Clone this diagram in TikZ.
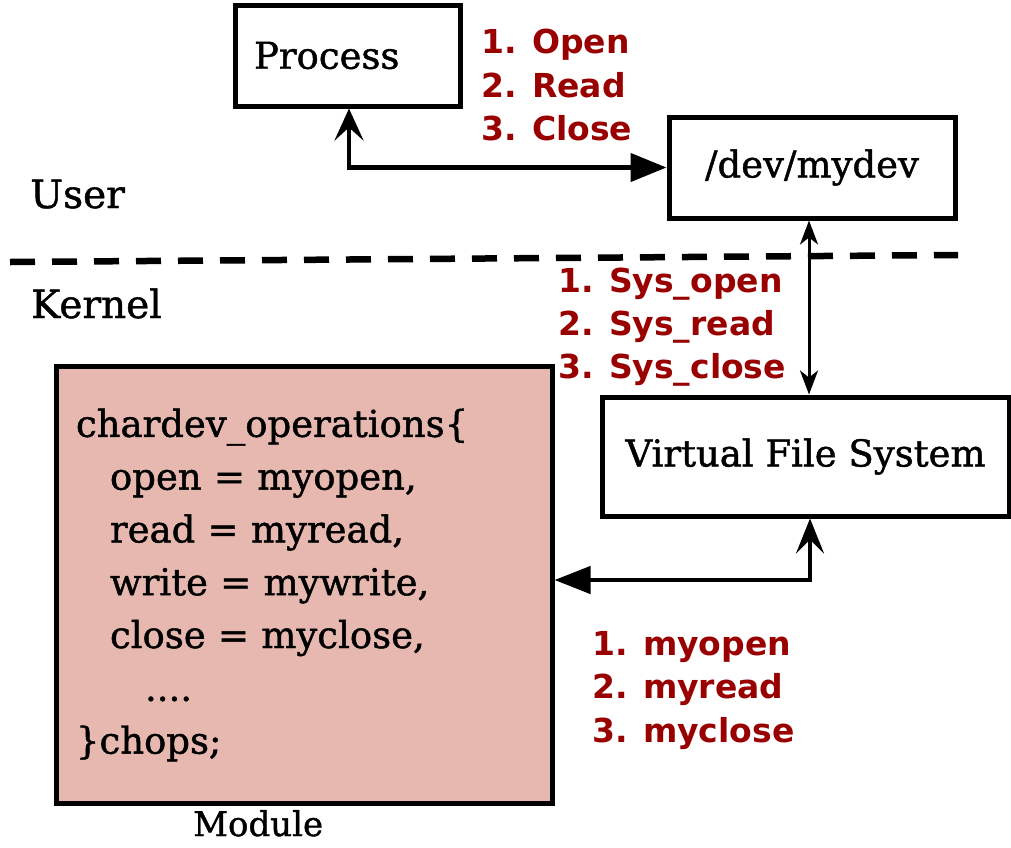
\documentclass[tikz,border=0pt]{standalone}
\usepackage{fontspec}
\setmainfont{DejaVu Serif}[FakeBold=1.2]
\newfontfamily\redfont{DejaVu Sans}
\usetikzlibrary{arrows.meta}
\definecolor{lblred}{RGB}{153,0,0}
\definecolor{modfill}{RGB}{230,184,175}
\tikzset{
  box/.style={draw=black, line width=5pt, fill=white, inner sep=0pt,
    font=\fontsize{37}{44}\selectfont},
  lbl/.style={anchor=base west, inner sep=0pt, text=lblred,
    font=\redfont\bfseries\fontsize{33}{40}\selectfont},
  side/.style={anchor=base west, inner sep=0pt, font=\fontsize{39}{48}\selectfont},
  thickarrow/.style={line width=4.5pt, line join=miter},
  thinarrow/.style={line width=3pt},
}
\begin{document}
\begin{tikzpicture}[x=1pt,y=-1pt]
\useasboundingbox (0,0) rectangle (1011,847);
% dashed separator
\coordinate (dl) at (10,262);
\coordinate (dr) at (958,255);
\draw[line width=6.5pt, dash pattern=on 25pt off 17pt] (dl) -- (dr);
% boxes
\node[box, minimum width=225pt, minimum height=101pt, text width=187pt, align=left] (proc) at (347.5,55.5) {Process};
\node[box, minimum width=286pt, minimum height=101pt] (dev) at (812,167.5) {/dev/mydev};
\node[box, minimum width=407pt, minimum height=119pt] (vfs) at (805.5,456.5) {Virtual File System};
\node[box, fill=modfill, minimum width=496pt, minimum height=437pt, text width=456pt, align=left,
  font=\fontsize{37}{52.8}\selectfont] (mod) at (304,585) {%
chardev\_operations\{\\
\hspace*{34pt}open = myopen,\\
\hspace*{34pt}read = myread,\\
\hspace*{34pt}write = mywrite,\\
\hspace*{34pt}close = myclose,\\
\hspace*{69pt}....\\
\}chops;};
% side labels
\node[side] (user) at (30,208) {User};
\node[side] (kernel) at (31,318) {Kernel};
\node[anchor=base west, inner sep=0pt, font=\fontsize{34}{40}\selectfont] (modlbl) at (193,836) {Module};
% red labels
\node[lbl] (o1) at (481,53) {1. Open};
\node[lbl] (o2) at (481,97) {2. Read};
\node[lbl] (o3) at (481,140) {3. Close};
\node[lbl] (s1) at (558,292) {1. Sys\_open};
\node[lbl] (s2) at (558,335) {2. Sys\_read};
\node[lbl] (s3) at (558,378) {3. Sys\_close};
\node[lbl] (m1) at (592,655) {1. myopen};
\node[lbl] (m2) at (592,698) {2. myread};
\node[lbl] (m3) at (592,742) {3. myclose};
% connectors
\coordinate (xa) at (349,0);
\coordinate (xb) at (809,0);
\coordinate (xc) at (810,580);
\draw[thickarrow, {Stealth[length=32pt,width=29pt,inset=13pt]}-{Triangle[length=36pt,width=28pt]}]
  (proc.south -| xa) |- (dev.west);
\draw[thinarrow, {Stealth[length=24pt,width=18pt,inset=7pt]}-{Stealth[length=24pt,width=18pt,inset=7pt]}]
  (dev.south -| xb) -- (vfs.north -| xb);
\draw[thickarrow, {Stealth[length=35pt,width=28pt,inset=14pt]}-{Triangle[length=36pt,width=27pt]}]
  (vfs.south -| xc) |- (mod.east |- xc);
\end{tikzpicture}
\end{document}
